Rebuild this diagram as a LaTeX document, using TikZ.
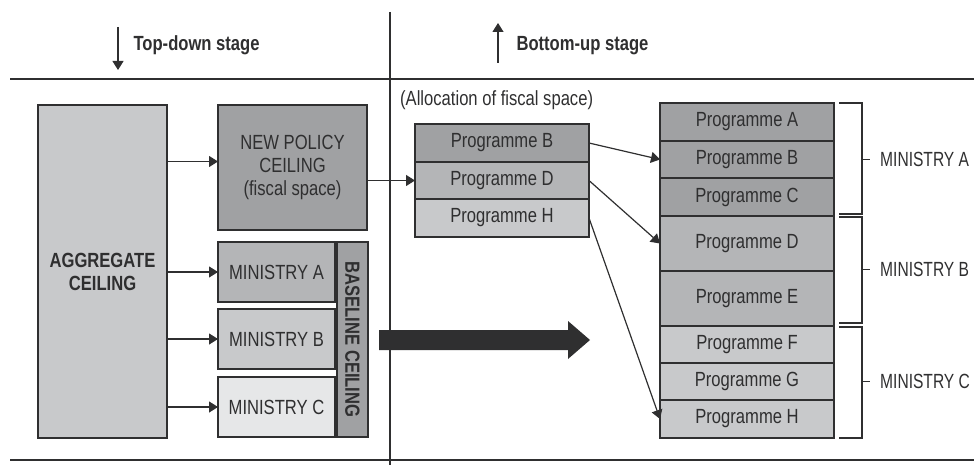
\documentclass[tikz,border=0pt]{standalone}
\usepackage{fontspec}
\setmainfont{Liberation Sans}[FakeStretch=0.81]
\newfontfamily\narrowsans{Liberation Sans}[FakeStretch=0.76]
\usetikzlibrary{positioning,arrows.meta}

\definecolor{greyA}{HTML}{A0A1A3}
\definecolor{greyB}{HTML}{B4B5B7}
\definecolor{greyC}{HTML}{C8C9CB}
\definecolor{greyD}{HTML}{E6E7E8}
\definecolor{inkdark}{HTML}{2F2F30}
\newcommand\labelsize{\fontsize{20.5}{23}\selectfont}

\tikzset{
	every node/.style={font=\labelsize, text=inkdark},
	box/.style={draw=inkdark, line width=1.3pt, inner sep=0pt, outer sep=0pt, align=center},
	prog/.style={box, minimum width=174pt},
	arr/.style={draw=inkdark, line width=1.2pt, -{Triangle[length=9pt,width=11pt]}},
	rule/.style={draw=inkdark, line width=1.5pt},
	brk/.style={draw=inkdark, line width=1.2pt},
	minlbl/.style={anchor=west, inner sep=0pt, font=\labelsize\narrowsans},
}

\begin{document}
\begin{tikzpicture}[x=1pt,y=-1pt]
\useasboundingbox (0,0) rectangle (974,465);

\draw[rule] (10,79) -- (974,79);
\draw[rule] (10,460) -- (974,460);
\draw[rule] (390,12) -- (390,465);

\node[anchor=west, font=\labelsize\bfseries] (tdlbl) at (130,45) {Top-down stage};
\coordinate (tdtop) at (118,27);
\coordinate (tdbot) at (118,70);
\draw[arr] (tdtop) -- (tdbot);
\node[anchor=west, font=\labelsize\bfseries] (bulbl) at (513,46) {Bottom-up stage};
\coordinate (bubot) at (498,63);
\coordinate (butop) at (498,23);
\draw[arr] (bubot) -- (butop);

\node[box, fill=greyC, anchor=north west, minimum width=129pt, minimum height=333pt, font=\labelsize\bfseries] (agg) at (38,105) {AGGREGATE\\CEILING};
\node[box, fill=greyA, anchor=north west, minimum width=149pt, minimum height=125pt] (newpol) at (218,105) {NEW POLICY\\CEILING\\(fiscal space)};
\node[box, fill=greyB, anchor=north west, minimum width=117pt, minimum height=60pt] (minA) at (218,242) {MINISTRY A};
\node[box, fill=greyC, minimum width=117pt, minimum height=60pt, below=7pt of minA] (minB) {MINISTRY B};
\node[box, fill=greyD, minimum width=117pt, minimum height=60pt, below=8pt of minB] (minC) {MINISTRY C};
\node[box, fill=greyA, rotate=-90, minimum width=195pt, minimum height=31pt, font=\labelsize\bfseries] (base) at (352.5,339.5) {BASELINE CEILING};

\coordinate (npin) at ([yshift=6pt]newpol.west);
\draw[arr] (agg.east |- npin) -- (npin);
\draw[arr] (agg.east |- minA.west) -- (minA.west);
\draw[arr] (agg.east |- minB.west) -- (minB.west);
\draw[arr] (agg.east |- minC.west) -- (minC.west);

\node[anchor=west, inner sep=0pt] (alloc) at (400,100) {(Allocation of fiscal space)};
\node[prog, fill=greyA, anchor=north west, minimum height=38pt] (pB) at (415,124) {Programme B};
\node[prog, fill=greyB, minimum height=37pt, below=0pt of pB] (pD) {Programme D};
\node[prog, fill=greyC, minimum height=38pt, below=0pt of pD] (pH) {Programme H};
\draw[arr] (newpol.east |- pD.west) -- (pD.west);

\node[prog, fill=greyA, anchor=north west, minimum height=38pt] (prA) at (660,103) {Programme A};
\node[prog, fill=greyA, minimum height=37pt, below=0pt of prA] (prB) {Programme B};
\node[prog, fill=greyA, minimum height=38pt, below=0pt of prB] (prC) {Programme C};
\node[prog, fill=greyB, minimum height=55pt, below=0pt of prC] (prD) {Programme D};
\node[prog, fill=greyB, minimum height=55pt, below=0pt of prD] (prE) {Programme E};
\node[prog, fill=greyC, minimum height=37pt, below=0pt of prE] (prF) {Programme F};
\node[prog, fill=greyC, minimum height=37pt, below=0pt of prF] (prG) {Programme G};
\node[prog, fill=greyC, minimum height=38pt, below=0pt of prG] (prH) {Programme H};

\draw[arr] (pB.east) -- (prB.west);
\draw[arr] (pD.east) -- (prD.west);
\draw[arr] (pH.east) -- (prH.west);

\fill[inkdark] (379,330) -- (568,330) -- (568,321) -- (590,340) -- (568,359) -- (568,350) -- (379,350) -- cycle;

\node[minlbl] (minAlbl) at ([xshift=46pt]prB.east) {MINISTRY A};
\node[minlbl] (minBlbl) at ([xshift=46pt,yshift=1.5pt]prE.north east) {MINISTRY B};
\node[minlbl] (minClbl) at ([xshift=46pt]prG.east) {MINISTRY C};

\draw[brk] ([xshift=5pt]prA.north east) -| ([xshift=28pt,yshift=2pt]prC.south east) -- ([xshift=5pt,yshift=2pt]prC.south east);
\draw[brk] ([xshift=5pt,yshift=-1pt]prD.north east) -| ([xshift=28pt,yshift=3pt]prE.south east) -- ([xshift=5pt,yshift=3pt]prE.south east);
\draw[brk] ([xshift=5pt,yshift=-1pt]prF.north east) -| ([xshift=28pt]prH.south east) -- ([xshift=5pt]prH.south east);
\draw[brk] ([xshift=-18pt]minAlbl.west) -- ([xshift=-10pt]minAlbl.west);
\draw[brk] ([xshift=-18pt]minBlbl.west) -- ([xshift=-10pt]minBlbl.west);
\draw[brk] ([xshift=-18pt]minClbl.west) -- ([xshift=-10pt]minClbl.west);
\end{tikzpicture}
\end{document}
